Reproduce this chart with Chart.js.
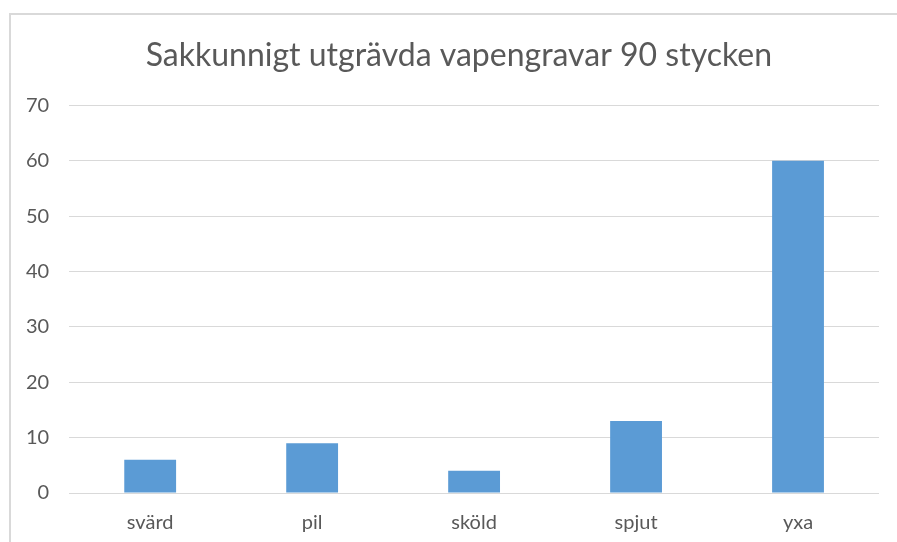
<!DOCTYPE html>
<html>
<head>
<meta charset="utf-8">
<script src="https://cdn.jsdelivr.net/npm/chart.js@4/dist/chart.umd.min.js"></script>
<style>
  html, body { margin: 0; padding: 0; background: #fff; overflow: hidden; }
  #wrap { position: relative; width: 897px; height: 542px; }
  #frame {
    position: absolute; left: 9px; top: 13px; width: 900px; height: 560px;
    border: 2px solid #d9d9d9; box-sizing: border-box;
  }
  canvas { position: absolute; left: 0; top: 0; }
</style>
</head>
<body>
<div id="wrap">
  <div id="frame"></div>
  <canvas id="chart" width="897" height="542"></canvas>
</div>
<script>
// Chart data
const TITLE = 'Sakkunnigt utgrävda vapengravar 90 stycken';
const categories = ['svärd', 'pil', 'sköld', 'spjut', 'yxa'];
const counts = [6, 9, 4, 13, 60];
const yTicks = [0, 10, 20, 30, 40, 50, 60, 70];

const TEXT = '#595959';
const GRID = '#d9d9d9';
const BAR = '#5b9bd5';
const FONT = 'Lato, "Open Sans", sans-serif';

new Chart(document.getElementById('chart'), {
  type: 'bar',
  data: {
    labels: categories,
    datasets: [{
      label: 'Antal',
      data: counts,
      backgroundColor: BAR,
      borderWidth: 0,
      categoryPercentage: 1,
      barPercentage: 0.32,
    }]
  },
  options: {
    responsive: false,
    animation: false,
    layout: { padding: { left: 6, right: 18, top: 0, bottom: 9 } },
    plugins: {
      legend: { display: false },
      tooltip: { enabled: false },
      title: {
        display: true,
        // leading spaces nudge the centred title a bit to the right, like the original
        text: '\u00a0\u00a0\u00a0\u00a0' + TITLE,
        color: TEXT,
        font: { family: FONT, size: 32, weight: 'normal' },
        padding: { top: 36, bottom: 31 },
      }
    },
    scales: {
      x: {
        grid: { display: false, drawTicks: false },
        border: { display: false },
        ticks: { color: TEXT, font: { family: FONT, size: 20 }, padding: 18 },
        // fixed axis height so the plot bottom lands where the reference has it
        afterFit: (axis) => { axis.height = 40; },
      },
      y: {
        min: 0,
        max: yTicks[yTicks.length - 1],
        afterBuildTicks: (axis) => { axis.ticks = yTicks.map(v => ({ value: v })); },
        grid: { color: GRID, lineWidth: 1, drawTicks: false },
        border: { display: false },
        ticks: { color: TEXT, font: { family: FONT, size: 20 }, padding: 20 },
      }
    }
  }
});
</script>
</body>
</html>
